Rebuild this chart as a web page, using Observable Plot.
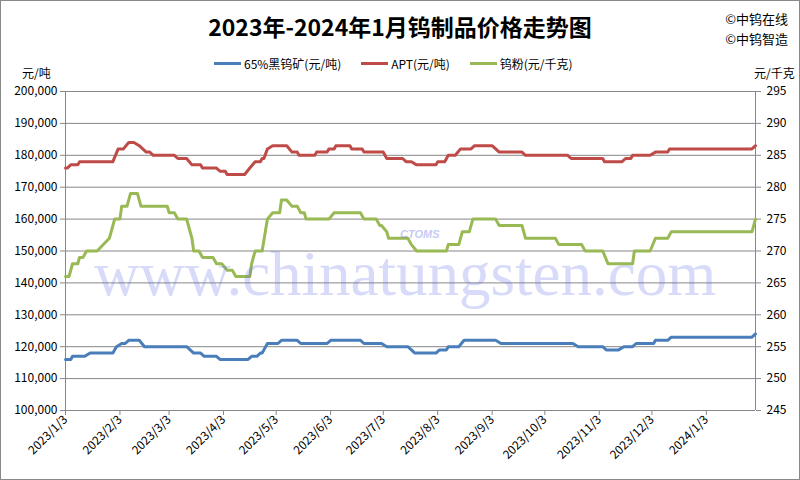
<!DOCTYPE html>
<html>
<head>
<meta charset="utf-8">
<script src="https://cdn.jsdelivr.net/npm/d3@7"></script>
<script src="https://cdn.jsdelivr.net/npm/@observablehq/plot@0.6"></script>
<style>
  body { margin: 0; background: #fff; }
  #wrap { position: relative; width: 800px; height: 480px; overflow: hidden; background: #fff;
          font-family: "Liberation Sans Narrow", "Noto Sans CJK SC", sans-serif; }
  #wrap svg { position: absolute; left: 0; top: 0; }
  .abs { position: absolute; white-space: nowrap; }
  #title { left: 0; width: 800px; top: 9px; text-align: center; font: bold 23px "Noto Sans CJK SC", sans-serif; color: #000; }
  .cr { right: 12px; font: 13px "Noto Sans CJK SC", sans-serif; color: #000; }
  #legend { top: 55px; left: 214px; font: 12px "Noto Sans CJK SC", sans-serif; display: flex; align-items: center; }
  .item { display: flex; align-items: center; margin-right: 20px; }
  .sw { width: 27px; height: 3px; margin-right: 3px; }
  .unit { top: 64px; font: 12px "Noto Sans CJK SC", sans-serif; }
  #frame { position: absolute; left: 0; top: 0; width: 798px; height: 478px; border: 1px solid #898989; pointer-events: none; }
  #wm { left: 94px; top: 238px; font: 63px "Liberation Serif", "DejaVu Serif", serif; color: rgb(100,110,228); opacity: 0.25; pointer-events: none; }
  #logo { left: 400px; top: 228px; font: italic bold 11px "Liberation Sans", sans-serif; color: rgb(95,105,225); opacity: 0.35; pointer-events: none; }
</style>
</head>
<body>
<div id="wrap">
  <div id="chart"></div>
  <div id="title" class="abs">2023年-2024年1月钨制品价格走势图</div>
  <div class="abs cr" style="top:9px">©中钨在线</div>
  <div class="abs cr" style="top:29px">©中钨智造</div>
  <div id="legend" class="abs"></div>
  <div class="abs unit" style="left:22px">元/吨</div>
  <div class="abs unit" style="left:754px">元/千克</div>
  <div id="wm" class="abs">www.chinatungsten.com</div>
  <div id="logo" class="abs">CTOMS</div>
  <div id="frame"></div>
</div>
<script>
// ---- data ----
const seriesNames = ["65%黑钨矿(元/吨)", "APT(元/吨)", "钨粉(元/千克)"];
const seriesColors = ["#4A7EBB", "#BE4B48", "#98B954"];

const oreSeries = [
  ["2023-01-03",116000],["2023-01-06",116000],["2023-01-07",117000],["2023-01-14",117000],["2023-01-17",118000],
  ["2023-01-30",118000],["2023-02-01",120000],["2023-02-04",121000],["2023-02-06",121000],["2023-02-08",122000],
  ["2023-02-14",122000],["2023-02-17",120000],["2023-03-13",120000],["2023-03-15",119000],["2023-03-17",118000],
  ["2023-03-21",118000],["2023-03-23",117000],["2023-03-30",117000],["2023-04-01",116000],["2023-04-17",116000],
  ["2023-04-19",117000],["2023-04-22",117000],["2023-04-24",118000],["2023-04-25",118000],["2023-04-26",119000],
  ["2023-04-28",121000],["2023-05-04",121000],["2023-05-06",122000],["2023-05-15",122000],["2023-05-17",121000],
  ["2023-06-01",121000],["2023-06-03",122000],["2023-06-20",122000],["2023-06-22",121000],["2023-07-02",121000],
  ["2023-07-05",120000],["2023-07-17",120000],["2023-07-19",119000],["2023-07-21",118000],["2023-08-02",118000],
  ["2023-08-04",119000],["2023-08-08",119000],["2023-08-09",120000],["2023-08-15",120000],["2023-08-18",122000],
  ["2023-09-05",122000],["2023-09-08",121000],["2023-10-19",121000],["2023-10-22",120000],["2023-11-05",120000],
  ["2023-11-07",119000],["2023-11-14",119000],["2023-11-17",120000],["2023-11-22",120000],["2023-11-24",121000],
  ["2023-12-04",121000],["2023-12-05",122000],["2023-12-12",122000],["2023-12-14",123000],["2024-01-29",123000],
  ["2024-01-31",124000]
];

const aptSeries = [
  ["2023-01-03",176000],["2023-01-04",176000],["2023-01-06",177000],["2023-01-10",177000],["2023-01-11",178000],
  ["2023-01-30",178000],["2023-02-02",182000],["2023-02-05",182000],["2023-02-08",184000],["2023-02-11",184000],
  ["2023-02-14",183000],["2023-02-16",182000],["2023-02-18",181000],["2023-02-20",181000],["2023-02-22",180000],
  ["2023-03-06",180000],["2023-03-08",179000],["2023-03-13",179000],["2023-03-16",177000],["2023-03-21",177000],
  ["2023-03-22",176000],["2023-03-30",176000],["2023-04-01",175000],["2023-04-04",175000],["2023-04-05",174000],
  ["2023-04-15",174000],["2023-04-18",176000],["2023-04-21",178000],["2023-04-24",178000],["2023-04-25",179000],
  ["2023-04-26",179000],["2023-04-28",182000],["2023-05-01",183000],["2023-05-09",183000],["2023-05-12",181000],
  ["2023-05-15",181000],["2023-05-16",180000],["2023-05-25",180000],["2023-05-26",181000],["2023-06-01",181000],
  ["2023-06-02",182000],["2023-06-05",182000],["2023-06-06",183000],["2023-06-14",183000],["2023-06-15",182000],
  ["2023-06-21",182000],["2023-06-22",181000],["2023-07-03",181000],["2023-07-05",179000],["2023-07-14",179000],
  ["2023-07-16",178000],["2023-07-19",178000],["2023-07-22",177000],["2023-08-02",177000],["2023-08-03",178000],
  ["2023-08-07",178000],["2023-08-09",180000],["2023-08-13",180000],["2023-08-16",182000],["2023-08-22",182000],
  ["2023-08-24",183000],["2023-09-03",183000],["2023-09-07",181000],["2023-09-20",181000],["2023-09-22",180000],
  ["2023-10-16",180000],["2023-10-18",179000],["2023-11-05",179000],["2023-11-06",178000],["2023-11-16",178000],
  ["2023-11-18",179000],["2023-11-21",179000],["2023-11-22",180000],["2023-12-02",180000],["2023-12-05",181000],
  ["2023-12-12",181000],["2023-12-13",182000],["2024-01-29",182000],["2024-01-31",183000]
];

const powderSeries = [
  ["2023-01-03",266],["2023-01-05",266],["2023-01-07",268],["2023-01-10",268],["2023-01-11",269],["2023-01-13",269],
  ["2023-01-15",270],["2023-01-21",270],["2023-01-28",272],["2023-01-31",275],["2023-02-03",275],["2023-02-04",277],
  ["2023-02-07",277],["2023-02-09",279],["2023-02-13",279],["2023-02-15",277],["2023-03-02",277],["2023-03-03",276],
  ["2023-03-06",276],["2023-03-08",275],["2023-03-13",275],["2023-03-14",274],["2023-03-16",272],["2023-03-17",270],
  ["2023-03-20",270],["2023-03-22",269],["2023-03-28",269],["2023-03-30",268],["2023-04-02",268],["2023-04-05",267],
  ["2023-04-08",267],["2023-04-10",266],["2023-04-18",266],["2023-04-19",268],["2023-04-21",270],["2023-04-25",270],
  ["2023-04-28",275],["2023-05-01",276],["2023-05-05",276],["2023-05-06",278],["2023-05-09",278],["2023-05-12",277],
  ["2023-05-15",277],["2023-05-17",276],["2023-05-19",276],["2023-05-20",275],["2023-06-02",275],["2023-06-05",276],
  ["2023-06-20",276],["2023-06-22",275],["2023-06-29",275],["2023-07-01",274],["2023-07-02",274],["2023-07-05",273],
  ["2023-07-06",272],["2023-07-17",272],["2023-07-19",271],["2023-07-22",270],["2023-08-08",270],["2023-08-09",271],
  ["2023-08-15",271],["2023-08-17",273],["2023-08-21",273],["2023-08-23",275],["2023-09-05",275],["2023-09-07",274],
  ["2023-09-20",274],["2023-09-22",272],["2023-10-09",272],["2023-10-11",271],["2023-10-24",271],["2023-10-26",270],
  ["2023-11-05",270],["2023-11-08",268],["2023-11-22",268],["2023-11-23",270],["2023-12-02",270],["2023-12-05",272],
  ["2023-12-12",272],["2023-12-14",273],["2024-01-29",273],["2024-01-31",275]
];

const xTicks = ["2023-01-03","2023-02-03","2023-03-03","2023-04-03","2023-05-03","2023-06-03","2023-07-03",
                "2023-08-03","2023-09-03","2023-10-03","2023-11-03","2023-12-03","2024-01-03"];
const xDomain = ["2023-01-03", "2024-01-31"];
const leftTicks = [100000,110000,120000,130000,140000,150000,160000,170000,180000,190000,200000];
const rightTicks = [245,250,255,260,265,270,275,280,285,290,295];

// ---- build ----
const parse = s => new Date(s + "T00:00:00Z");
// right axis (元/千克) mapped onto left axis (元/吨)
const r2l = v => leftTicks[0] + (v - rightTicks[0]) * (leftTicks[leftTicks.length-1] - leftTicks[0]) / (rightTicks[rightTicks.length-1] - rightTicks[0]);
const toRows = (arr, key, conv) => arr.map(([d, v]) => ({date: parse(d), value: conv ? conv(v) : v, key}));

const rows = [
  ...toRows(oreSeries, 0),
  ...toRows(aptSeries, 1),
  ...toRows(powderSeries, 2, r2l)
];

const fmtDate = d => `${d.getUTCFullYear()}/${d.getUTCMonth()+1}/${d.getUTCDate()}`;
const grid = "#878787";

const chart = Plot.plot({
  width: 800, height: 480,
  marginTop: 91, marginBottom: 70, marginLeft: 65, marginRight: 45,
  style: {fontFamily: '"Liberation Sans Narrow", "Noto Sans CJK SC", sans-serif', fontSize: "12px", color: "#000", background: "transparent"},
  x: {type: "utc", domain: xDomain.map(parse)},
  y: {domain: [leftTicks[0], leftTicks[leftTicks.length-1]]},
  marks: [
    Plot.ruleY(leftTicks, {stroke: grid, strokeWidth: 1}),
    Plot.ruleX([parse(xDomain[0]), parse(xDomain[1])], {stroke: grid, strokeWidth: 1}),
    Plot.axisY(leftTicks, {anchor: "left", tickFormat: d3.format(","), tickSize: 5, tickPadding: 3, stroke: grid, label: null, fill: "#000"}),
    Plot.axisY(leftTicks, {anchor: "right", tickFormat: (d, i) => rightTicks[i], tickSize: 5, tickPadding: 6, stroke: grid, label: null, fill: "#000"}),
    Plot.axisX(xTicks.map(parse), {tickFormat: fmtDate, tickRotate: -45, tickSize: 5, tickPadding: 2, stroke: grid, label: null, fill: "#000"}),
    ...[0,1,2].map(k => Plot.line(rows.filter(r => r.key === k), {
      x: "date", y: "value", stroke: seriesColors[k], strokeWidth: 3, strokeLinejoin: "round", strokeLinecap: "round"
    }))
  ]
});
document.getElementById("chart").appendChild(chart);

// legend
const lg = document.getElementById("legend");
seriesNames.forEach((n, i) => {
  const it = document.createElement("div"); it.className = "item";
  const sw = document.createElement("div"); sw.className = "sw"; sw.style.background = seriesColors[i];
  const tx = document.createElement("span"); tx.textContent = n;
  it.appendChild(sw); it.appendChild(tx); lg.appendChild(it);
});
</script>
</body>
</html>
